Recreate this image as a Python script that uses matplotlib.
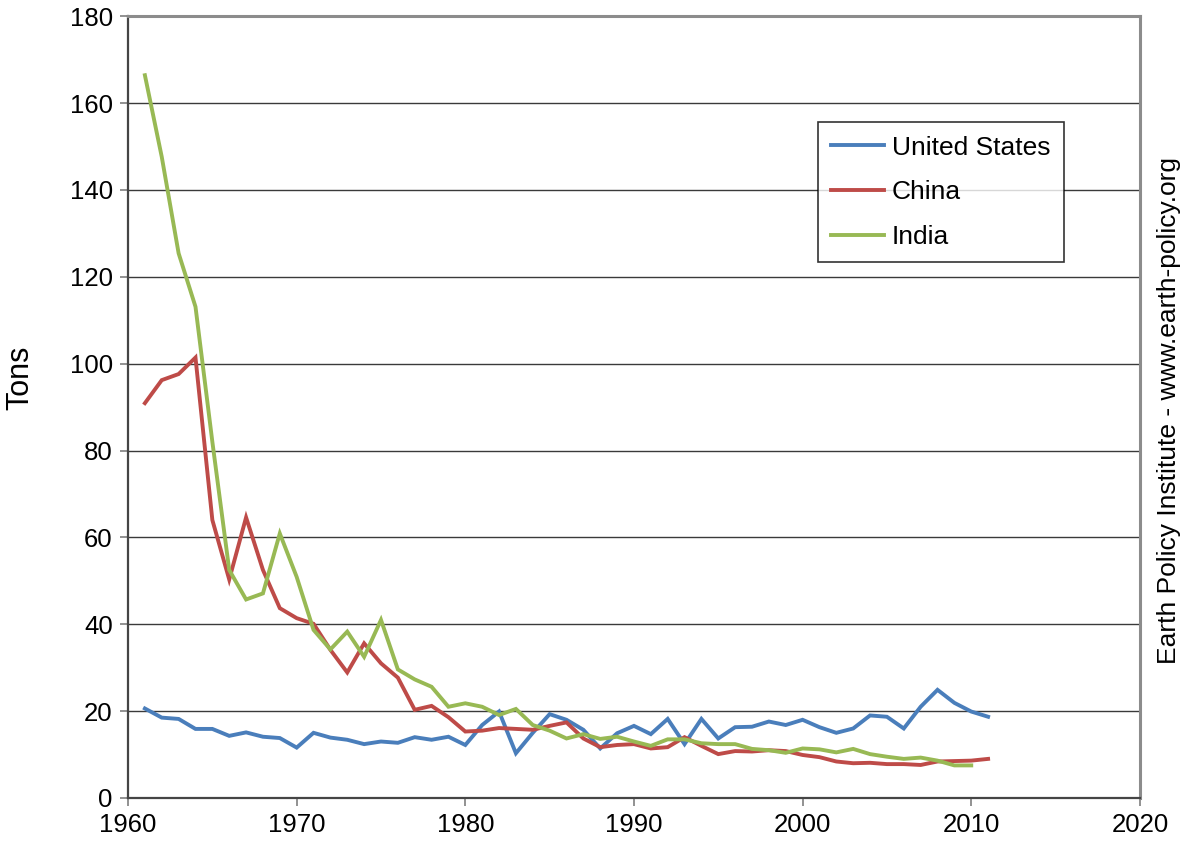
#!/usr/bin/env python3
"""Grain-to-fertilizer style ratio (tons) for US, China and India, 1961-2011."""

import matplotlib

matplotlib.use("Agg")
import matplotlib.pyplot as plt

years = list(range(1961, 2012))

united_states = [
    20.6, 18.5, 18.2, 15.9, 15.9, 14.3, 15.1, 14.1, 13.8, 11.6,
    15.0, 13.9, 13.4, 12.4, 13.0, 12.7, 14.0, 13.4, 14.1, 12.2,
    16.8, 19.9, 10.3, 15.0, 19.3, 18.0, 15.7, 11.4, 14.9, 16.6,
    14.7, 18.2, 12.4, 18.2, 13.7, 16.3, 16.4, 17.6, 16.8, 18.0,
    16.3, 15.0, 16.0, 19.0, 18.7, 16.0, 21.0, 24.9, 21.9, 19.9,
    18.7,
]

china = [
    90.9, 96.2, 97.6, 101.4, 64.0, 50.3, 64.6, 52.5, 43.7, 41.4,
    40.1, 34.1, 28.9, 35.6, 31.0, 27.7, 20.3, 21.2, 18.6, 15.3,
    15.5, 16.1, 15.9, 15.7, 16.6, 17.4, 13.7, 11.7, 12.2, 12.4,
    11.4, 11.7, 14.0, 12.0, 10.1, 10.8, 10.7, 11.0, 10.8, 9.9,
    9.4, 8.4, 8.0, 8.1, 7.8, 7.8, 7.6, 8.4, 8.5, 8.6,
    9.0,
]

india = [
    166.4, 147.6, 125.4, 113.1, 82.0, 52.5, 45.7, 47.1, 60.9, 50.9,
    38.7, 34.2, 38.3, 32.5, 41.0, 29.6, 27.3, 25.6, 21.0, 21.8,
    21.0, 19.1, 20.5, 16.8, 15.5, 13.7, 14.7, 13.6, 14.1, 13.0,
    12.0, 13.5, 13.5, 12.6, 12.4, 12.4, 11.3, 11.0, 10.4, 11.4,
    11.2, 10.5, 11.3, 10.1, 9.5, 9.0, 9.3, 8.6, 7.5, 7.5,
]

SERIES = [
    ("United States", united_states, "#4a7ebb"),
    ("China", china, "#be4b48"),
    ("India", india, "#98b954"),
]

FONT = "Liberation Sans"
plt.rcParams["font.family"] = [FONT, "DejaVu Sans"]


def main():
    fig = plt.figure(figsize=(11.8, 8.5), dpi=100)
    ax = fig.add_axes([0.1085, 0.0612, 0.8575, 0.9198])

    for name, values, color in SERIES:
        ax.plot(years[: len(values)], values, color=color, linewidth=2.8,
                label=name, solid_joinstyle="miter", zorder=3)

    ax.set_xlim(1960, 2020)
    ax.set_ylim(0, 180)
    ax.set_xticks(range(1960, 2021, 10))
    ax.set_yticks(range(0, 181, 20))
    ax.yaxis.grid(True, color="#3a3a3a", linewidth=1.0, zorder=1)
    ax.set_axisbelow(True)

    ax.tick_params(axis="both", direction="out", length=6, width=1.2,
                   color="#7f7f7f", labelsize=18.5, pad=5)
    for side in ("left", "bottom"):
        ax.spines[side].set_color("#454545")
        ax.spines[side].set_linewidth(1.6)
    for side in ("top", "right"):
        ax.spines[side].set_color("#8c8c8c")
        ax.spines[side].set_linewidth(2.2)

    ax.set_ylabel("Tons", fontsize=22)
    ax.yaxis.set_label_coords(-0.092, 0.538)

    leg = ax.legend(loc="upper left", bbox_to_anchor=(0.682, 0.864),
                    fontsize=19, frameon=True, fancybox=False,
                    handlelength=2.0, handletextpad=0.3,
                    labelspacing=0.78, borderpad=0.5, borderaxespad=0)
    leg.get_frame().set_edgecolor("#000000")
    leg.get_frame().set_linewidth(1.2)

    fig.text(0.991, 0.517, "Earth Policy Institute - www.earth-policy.org",
             rotation=90, ha="center", va="center", fontsize=19)

    fig.savefig("out.png", dpi=100)


if __name__ == "__main__":
    main()
